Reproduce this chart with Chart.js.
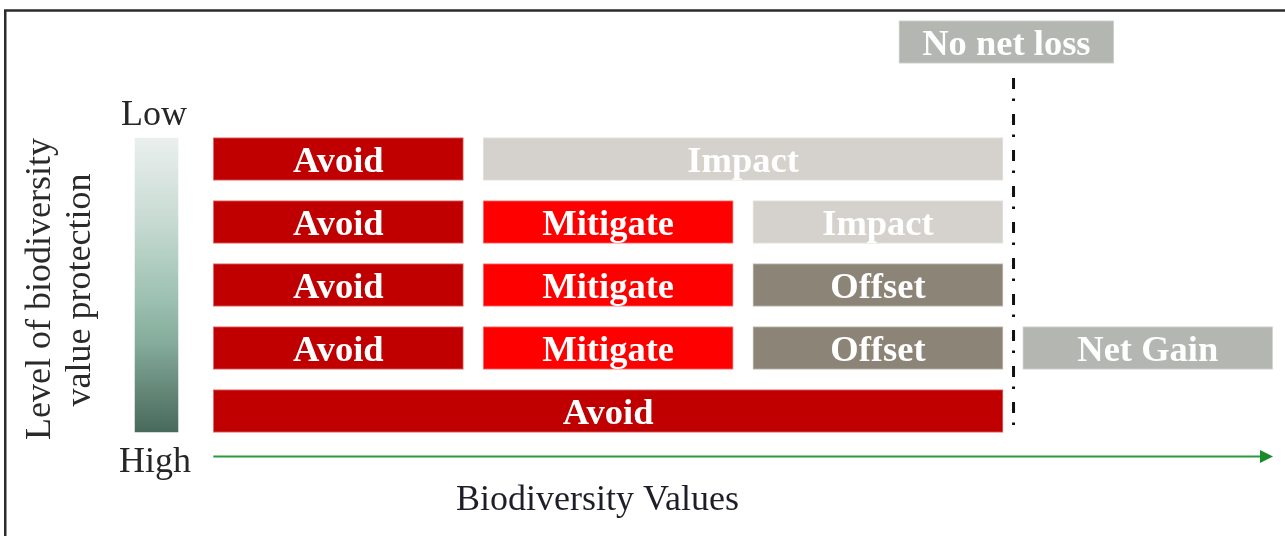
<!DOCTYPE html>
<html>
<head>
<meta charset="utf-8">
<script src="https://cdn.jsdelivr.net/npm/chart.js@4/dist/chart.umd.min.js"></script>
<style>
  html, body { margin: 0; padding: 0; background: #ffffff; }
  #wrap { width: 1285px; height: 536px; position: relative; }
</style>
</head>
<body>
<div id="wrap"><canvas id="c" width="1285" height="536"></canvas></div>
<script>
// ---- Data (in chart units: column index along "Biodiversity Values", row level) ----
// Row levels (0 = bottom row "High protection", 4 = top row "Low protection")
const avoidRows   = [4, 3, 2, 1, 0];
const avoidStart  = [0, 0, 0, 0, 0];
const avoidEnd    = [0.927, 0.927, 0.927, 0.927, 2.927];
const avoidLabels = ['Avoid', 'Avoid', 'Avoid', 'Avoid', 'Avoid'];

const mitigateRows   = [3, 2, 1];
const mitigateStart  = [1, 1, 1];
const mitigateEnd    = [1.927, 1.927, 1.927];
const mitigateLabels = ['Mitigate', 'Mitigate', 'Mitigate'];

const impactRows   = [4, 3];
const impactStart  = [1, 2];
const impactEnd    = [2.927, 2.927];
const impactLabels = ['Impact', 'Impact'];

const offsetRows   = [2, 1];
const offsetStart  = [2, 2];
const offsetEnd    = [2.927, 2.927];
const offsetLabels = ['Offset', 'Offset'];

const gainRows   = [1];
const gainStart  = [3];
const gainEnd    = [3.927];
const gainLabels = ['Net Gain'];

const nnlRows   = [5.857];
const nnlStart  = [2.541];
const nnlEnd    = [3.338];
const nnlLabels = ['No net loss'];

// protection gradient scale (spans rows 0..4, centred on level 2)
const gradRows  = [2];
const gradStart = [-0.290];
const gradEnd   = [-0.131];

const noNetLossLine = 2.966;   // x position of the dash-dot threshold
const axisTitle  = 'Biodiversity Values';
const yTitle     = ['Level of biodiversity', 'value protection'];
const lowLabel   = 'Low';
const highLabel  = 'High';

function pts(rows, s, e) { return rows.map((r, i) => ({ x: [s[i], e[i]], y: r })); }

const SERIF = "'Liberation Serif', 'Times New Roman', serif";

function gradFill(context) {
  const chart = context.chart;
  if (!chart.chartArea || !chart.scales.y) return '#8fb5a5';
  const yS = chart.scales.y;
  const top = yS.getPixelForValue(2) - 147;
  const bot = yS.getPixelForValue(2) + 147;
  const g = chart.ctx.createLinearGradient(0, top, 0, bot);
  g.addColorStop(0, '#eaefed');
  g.addColorStop(0.3, '#c5d9d1');
  g.addColorStop(0.55, '#9cc0b1');
  g.addColorStop(0.7, '#84ab9b');
  g.addColorStop(0.85, '#66897a');
  g.addColorStop(1, '#476a5c');
  return g;
}

const datasets = [
  { label: 'Avoid', data: pts(avoidRows, avoidStart, avoidEnd), labels: avoidLabels,
    backgroundColor: '#c00000', borderColor: '#e27070', borderWidth: 1, barThickness: 43 },
  { label: 'Mitigate', data: pts(mitigateRows, mitigateStart, mitigateEnd), labels: mitigateLabels,
    backgroundColor: '#ff0000', borderColor: '#ff8080', borderWidth: 1, barThickness: 43 },
  { label: 'Impact', data: pts(impactRows, impactStart, impactEnd), labels: impactLabels,
    backgroundColor: '#d5d2cd', borderColor: '#e6e4e1', borderWidth: 1, barThickness: 43 },
  { label: 'Offset', data: pts(offsetRows, offsetStart, offsetEnd), labels: offsetLabels,
    backgroundColor: '#8c8477', borderColor: '#c4bfb8', borderWidth: 1, barThickness: 43 },
  { label: 'Net Gain', data: pts(gainRows, gainStart, gainEnd), labels: gainLabels,
    backgroundColor: '#b4b7b1', borderColor: '#d6d8d4', borderWidth: 1, barThickness: 43 },
  { label: 'No net loss', data: pts(nnlRows, nnlStart, nnlEnd), labels: nnlLabels,
    backgroundColor: '#b4b7b1', borderColor: '#d6d8d4', borderWidth: 1, barThickness: 43 },
  { label: 'Protection', data: pts(gradRows, gradStart, gradEnd), labels: [''],
    backgroundColor: gradFill, borderWidth: 0, barThickness: 294 }
];

const labelPlugin = {
  id: 'barLabels',
  afterDatasetsDraw(chart) {
    const ctx = chart.ctx;
    ctx.save();
    ctx.font = 'bold 36.5px ' + SERIF;
    ctx.textAlign = 'center';
    ctx.textBaseline = 'alphabetic';
    ctx.fillStyle = '#ffffff';
    chart.data.datasets.forEach((ds, di) => {
      const meta = chart.getDatasetMeta(di);
      meta.data.forEach((el, i) => {
        const t = ds.labels && ds.labels[i];
        if (!t) return;
        const p = el.getProps(['x', 'y', 'base'], true);
        const cx = (p.x + p.base) / 2;
        ctx.fillText(t, cx, p.y + 13);
      });
    });
    ctx.restore();
  }
};

const decorPlugin = {
  id: 'decor',
  afterDraw(chart) {
    const ctx = chart.ctx;
    const xS = chart.scales.x, yS = chart.scales.y;
    ctx.save();
    // frame
    ctx.strokeStyle = '#2b2b2b';
    ctx.lineWidth = 2.5;
    ctx.beginPath();
    ctx.moveTo(5.25, 536);
    ctx.lineTo(5.25, 10.5);
    ctx.lineTo(1285, 10.5);
    ctx.stroke();

    // dash-dot threshold line
    const lx = xS.getPixelForValue(noNetLossLine);
    ctx.strokeStyle = '#111111';
    ctx.lineWidth = 3;
    ctx.setLineDash([11, 9.5, 2.5, 13]);
    ctx.beginPath();
    ctx.moveTo(lx, 78);
    ctx.lineTo(lx, yS.getPixelForValue(0) + 20);
    ctx.stroke();
    ctx.setLineDash([]);

    // green axis arrow
    const ax0 = xS.getPixelForValue(0);
    const ay = 456.5;
    ctx.strokeStyle = '#2f9a3c';
    ctx.lineWidth = 2;
    ctx.beginPath();
    ctx.moveTo(ax0, ay);
    ctx.lineTo(1262, ay);
    ctx.stroke();
    ctx.fillStyle = '#1b8a2b';
    ctx.beginPath();
    ctx.moveTo(1260, ay - 6.5);
    ctx.lineTo(1273, ay);
    ctx.lineTo(1260, ay + 6.5);
    ctx.closePath();
    ctx.fill();

    // texts
    ctx.fillStyle = '#262626';
    ctx.font = '36px ' + SERIF;
    ctx.textAlign = 'center';
    ctx.textBaseline = 'alphabetic';
    ctx.fillText(lowLabel, 154, 125);
    ctx.fillText(highLabel, 155, 472);
    ctx.fillStyle = '#1e1e28';
    ctx.fillText(axisTitle, 597.5, 510);

    ctx.fillStyle = '#2a2a2a';
    ctx.save();
    ctx.translate(50, 289);
    ctx.rotate(-Math.PI / 2);
    ctx.fillText(yTitle[0], 0, 0);
    ctx.restore();
    ctx.save();
    ctx.translate(90, 290);
    ctx.rotate(-Math.PI / 2);
    ctx.fillText(yTitle[1], 0, 0);
    ctx.restore();

    ctx.restore();
  }
};

new Chart(document.getElementById('c'), {
  type: 'bar',
  data: { datasets },
  options: {
    indexAxis: 'y',
    responsive: false,
    animation: false,
    layout: { padding: 0 },
    datasets: { bar: { grouped: false } },
    plugins: { legend: { display: false }, tooltip: { enabled: false }, title: { display: false } },
    scales: {
      x: { type: 'linear', min: -0.7906, max: 3.9722, offset: false, display: false, grid: { display: false } },
      y: { type: 'linear', min: -1.984, max: 6.524, offset: false, display: false, grid: { display: false } }
    },
    elements: { bar: { borderSkipped: false } }
  },
  plugins: [labelPlugin, decorPlugin]
});
</script>
</body>
</html>
